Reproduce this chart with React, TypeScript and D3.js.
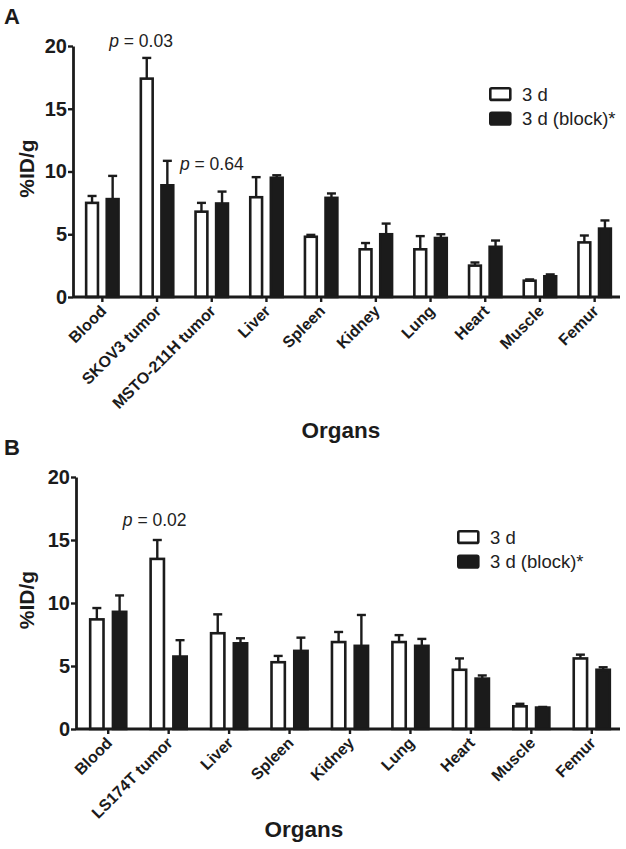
import React, { useEffect, useRef } from "react";
import * as d3 from "d3";

// panel A
const organsA = ["Blood", "SKOV3 tumor", "MSTO-211H tumor", "Liver", "Spleen", "Kidney", "Lung", "Heart", "Muscle", "Femur"];
const meanA3d = [7.5, 17.4, 6.8, 7.95, 4.8, 3.8, 3.8, 2.5, 1.3, 4.35];
const errA3d = [0.55, 1.65, 0.7, 1.6, 0.15, 0.5, 1.05, 0.25, 0.1, 0.55];
const meanABlock = [7.8, 8.9, 7.45, 9.5, 7.9, 5.0, 4.7, 4.0, 1.65, 5.45];
const errABlock = [1.85, 1.95, 0.95, 0.2, 0.35, 0.85, 0.3, 0.5, 0.15, 0.65];

// panel B
const organsB = ["Blood", "LS174T tumor", "Liver", "Spleen", "Kidney", "Lung", "Heart", "Muscle", "Femur"];
const meanB3d = [8.7, 13.5, 7.6, 5.3, 6.9, 6.9, 4.7, 1.8, 5.6];
const errB3d = [0.9, 1.5, 1.5, 0.5, 0.8, 0.55, 0.9, 0.2, 0.3];
const meanBBlock = [9.3, 5.75, 6.8, 6.2, 6.6, 6.6, 4.0, 1.7, 4.7];
const errBBlock = [1.3, 1.3, 0.4, 1.05, 2.45, 0.55, 0.25, 0.05, 0.2];

const seriesNames = ["3 d", "3 d (block)*"];
const yTicks = [0, 5, 10, 15, 20];

const FONT = "'Liberation Sans', Arial, Helvetica, sans-serif";
const INK = "#1b1b1b";

interface PanelProps {
  letter: string;
  organs: string[];
  means: number[][];
  errs: number[][];
  pNotes: { organ: string; label: string; dx: number; value: number }[];
  box: { top: number; bottom: number; left: number; right: number };
  legend: { x: number; y: number };
  title: { x: number; y: number };
}

const Panel = (p: PanelProps) => {
  const gRef = useRef<SVGGElement | null>(null);

  useEffect(() => {
    const g = d3.select(gRef.current);
    g.selectAll("*").remove();
    const { top, bottom, left, right } = p.box;
    const sw = 2.6;

    const y = d3.scaleLinear().domain([0, 20]).range([bottom, top]);
    const x0 = d3
      .scaleBand()
      .domain(p.organs)
      .range([left + 2, right + 2])
      .paddingInner(0.36)
      .paddingOuter(0.18);
    const x1 = d3
      .scaleBand()
      .domain(["0", "1"])
      .range([0, x0.bandwidth()])
      .paddingInner(0.3);

    // bars + error bars
    p.means.forEach((vals, s) => {
      const grp = g.append("g");
      vals.forEach((v, i) => {
        const bx = (x0(p.organs[i]) as number) + (x1(String(s)) as number);
        const cx = bx + x1.bandwidth() / 2;
        const top2 = y(v + p.errs[s][i]);
        grp
          .append("line")
          .attr("x1", cx)
          .attr("x2", cx)
          .attr("y1", y(v))
          .attr("y2", top2)
          .attr("stroke", INK)
          .attr("stroke-width", 2.4);
        grp
          .append("line")
          .attr("x1", cx - 4.5)
          .attr("x2", cx + 4.5)
          .attr("y1", top2)
          .attr("y2", top2)
          .attr("stroke", INK)
          .attr("stroke-width", 2.4);
        grp
          .append("rect")
          .attr("x", bx + sw / 2)
          .attr("y", y(v))
          .attr("width", x1.bandwidth() - sw)
          .attr("height", y(0) - y(v))
          .attr("fill", s === 0 ? "#fff" : INK)
          .attr("stroke", INK)
          .attr("stroke-width", sw);
      });
    });

    // y axis
    const gy = g
      .append("g")
      .attr("transform", `translate(${left},0)`)
      .call(d3.axisLeft(y).tickValues(yTicks).tickSize(5).tickSizeOuter(0).tickPadding(1));
    gy.select(".domain").attr("stroke", INK).attr("stroke-width", 2.8);
    gy.selectAll(".tick line").attr("stroke", INK).attr("stroke-width", 2.4);
    gy.selectAll("text")
      .attr("fill", INK)
      .style("font-family", FONT)
      .style("font-weight", "bold")
      .style("font-size", "20px");

    // x axis
    const gx = g
      .append("g")
      .attr("transform", `translate(0,${bottom})`)
      .call(d3.axisBottom(x0).tickSize(5).tickSizeOuter(0).tickFormat(() => ""));
    gx.select(".domain").attr("d", `M${left},0H${right}`).attr("stroke", INK).attr("stroke-width", 2.8);
    gx.selectAll(".tick line").attr("stroke", INK).attr("stroke-width", 2.4);
    gx.selectAll<SVGGElement, string>(".tick")
      .append("text")
      .attr("transform", "translate(5,15) rotate(-45)")
      .attr("text-anchor", "end")
      .attr("fill", INK)
      .style("font-family", FONT)
      .style("font-weight", "bold")
      .style("font-size", "16px")
      .text((d) => d);

    // p annotations
    p.pNotes.forEach((n) => {
      const t = g
        .append("text")
        .attr("x", (x0(n.organ) as number) + x0.bandwidth() / 2 + n.dx)
        .attr("y", y(n.value))
        .attr("text-anchor", "middle")
        .attr("fill", "#222")
        .style("font-family", FONT)
        .style("font-size", "17.5px");
      t.append("tspan").style("font-style", "italic").text("p");
      t.append("tspan").text(n.label);
    });

    // legend
    seriesNames.forEach((name, s) => {
      const ly = p.legend.y + s * 24.5;
      g.append("rect")
        .attr("x", p.legend.x + 1.3)
        .attr("y", ly + 1.3)
        .attr("width", 20)
        .attr("height", 11.6)
        .attr("rx", 1.5)
        .attr("fill", s === 0 ? "#fff" : INK)
        .attr("stroke", INK)
        .attr("stroke-width", 2.6);
      g.append("text")
        .attr("x", p.legend.x + 33)
        .attr("y", ly + 13.5)
        .attr("fill", "#222")
        .style("font-family", FONT)
        .style("font-size", "18.5px")
        .text(name);
    });

    // axis titles
    g.append("text")
      .attr("transform", `translate(34,${(top + bottom) / 2 - 3}) rotate(-90)`)
      .attr("text-anchor", "middle")
      .attr("fill", INK)
      .style("font-family", FONT)
      .style("font-weight", "bold")
      .style("font-size", "21px")
      .text("%ID/g");
    g.append("text")
      .attr("x", p.title.x)
      .attr("y", p.title.y)
      .attr("text-anchor", "middle")
      .attr("fill", INK)
      .style("font-family", FONT)
      .style("font-weight", "bold")
      .style("font-size", "22.5px")
      .text("Organs");
    g.append("text")
      .attr("x", 4)
      .attr("y", top - 22)
      .attr("fill", INK)
      .style("font-family", FONT)
      .style("font-weight", "bold")
      .style("font-size", "22px")
      .text(p.letter);
  }, [p]);

  return <g ref={gRef} />;
};

export default function App() {
  return (
    <div style={{ position: "absolute", left: 0, top: 0, width: 626, height: 849, background: "#fff" }}>
      <svg width={626} height={849} viewBox="0 0 626 849">
        <rect width={626} height={849} fill="#fff" />
        <Panel
          letter="A"
          organs={organsA}
          means={[meanA3d, meanABlock]}
          errs={[errA3d, errABlock]}
          pNotes={[
            { organ: "SKOV3 tumor", label: " = 0.03", dx: -16, value: 19.9 },
            { organ: "MSTO-211H tumor", label: " = 0.64", dx: 0, value: 10.1 },
          ]}
          box={{ top: 46, bottom: 297, left: 73, right: 620 }}
          legend={{ x: 489, y: 87 }}
          title={{ x: 341, y: 438 }}
        />
        <Panel
          letter="B"
          organs={organsB}
          means={[meanB3d, meanBBlock]}
          errs={[errB3d, errBBlock]}
          pNotes={[{ organ: "LS174T tumor", label: " = 0.02", dx: -14, value: 16.1 }]}
          box={{ top: 477, bottom: 729, left: 76, right: 620 }}
          legend={{ x: 457, y: 530 }}
          title={{ x: 304, y: 837 }}
        />
      </svg>
    </div>
  );
}
